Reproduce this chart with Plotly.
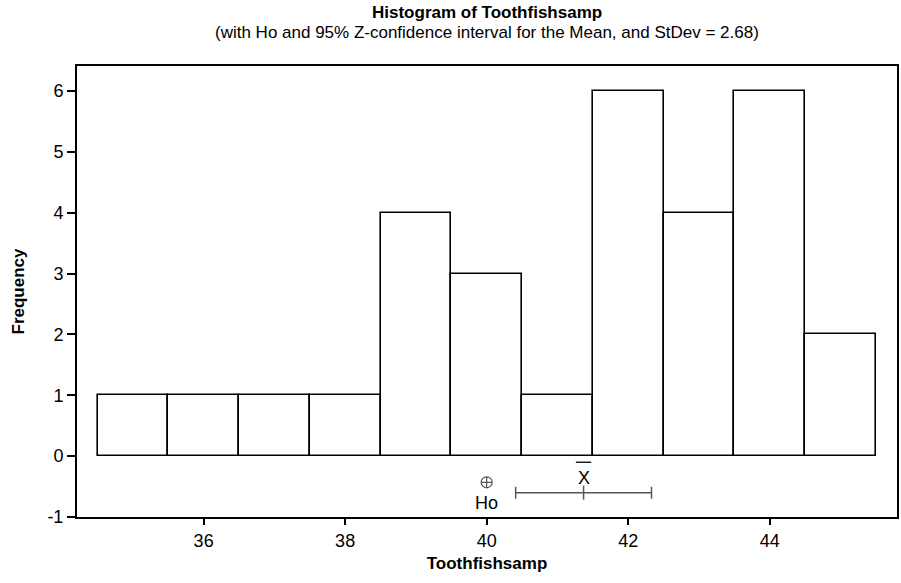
import plotly.graph_objects as go

bin_centers = [35, 36, 37, 38, 39, 40, 41, 42, 43, 44, 45]
frequencies = [1, 1, 1, 1, 4, 3, 1, 6, 4, 6, 2]
x_ticks = [36, 38, 40, 42, 44]
y_ticks = [-1, 0, 1, 2, 3, 4, 5, 6]
y_tick_labels = ["-1", "0", "1", "2", "3", "4", "5", "6"]
h0 = 40
ci_mean = 41.37
ci_low = 40.41
ci_high = 42.33

FONT = "Liberation Sans, Arial, Helvetica, sans-serif"
GRAY = "#555555"

fig = go.Figure()
fig.add_trace(go.Bar(
    x=bin_centers, y=frequencies, width=1,
    marker=dict(color="white", line=dict(color="black", width=1.6)),
    hoverinfo="x+y", showlegend=False,
))

# Confidence interval
fig.add_trace(go.Scatter(
    x=[ci_mean], y=[-0.6], mode="markers",
    marker=dict(symbol="line-ns-open", size=10, color=GRAY, line=dict(width=1.5, color=GRAY)),
    error_x=dict(type="data", symmetric=False, array=[ci_high - ci_mean], arrayminus=[ci_mean - ci_low],
                 color=GRAY, thickness=1.5, width=6),
    showlegend=False, hoverinfo="skip",
))
# Ho marker
fig.add_trace(go.Scatter(
    x=[h0], y=[-0.43], mode="markers",
    marker=dict(symbol="circle-cross-open", size=11, color=GRAY, line=dict(width=1.2, color=GRAY)),
    showlegend=False, hoverinfo="skip",
))
# bar over the X (x-bar symbol)
fig.add_trace(go.Scatter(
    x=[ci_mean], y=[-0.1], mode="markers",
    marker=dict(symbol="line-ew-open", size=11, color="black", line=dict(width=1.3, color="black")),
    showlegend=False, hoverinfo="skip",
))
fig.add_annotation(x=h0, y=-0.77, text="Ho", showarrow=False, font=dict(family=FONT, size=18, color="black"))
fig.add_annotation(x=ci_mean, y=-0.36, text="X", showarrow=False, font=dict(family=FONT, size=18, color="black"))

fig.add_annotation(xref="paper", yref="paper", x=0.5, y=1, yshift=42, xanchor="center", yanchor="bottom",
                   text="<b>Histogram of Toothfishsamp</b>", showarrow=False,
                   font=dict(family=FONT, size=17, color="black"))
fig.add_annotation(xref="paper", yref="paper", x=0.5, y=1, yshift=22, xanchor="center", yanchor="bottom",
                   text="(with Ho and 95% Z-confidence interval for the Mean, and StDev = 2.68)", showarrow=False,
                   font=dict(family=FONT, size=17, color="black"))

fig.update_layout(
    width=901, height=583,
    margin=dict(l=77, r=2, t=66, b=66),
    paper_bgcolor="white", plot_bgcolor="white",
    font=dict(family=FONT, size=17, color="black"),
    bargap=0,
)
fig.update_xaxes(
    range=[34.21, 45.8], tickvals=x_ticks, ticks="outside", ticklen=6, tickwidth=1.5, tickcolor="black",
    showline=True, linecolor="black", linewidth=2, mirror=True, showgrid=False, zeroline=False,
    title=dict(text="<b>Toothfishsamp</b>", font=dict(family=FONT, size=17), standoff=8),
    tickfont=dict(family=FONT, size=18),
)
fig.update_yaxes(
    range=[-1, 6.41], tickvals=y_ticks, ticktext=y_tick_labels, ticks="outside", ticklen=8, tickwidth=1.5,
    tickcolor="black",
    showline=True, linecolor="black", linewidth=2, mirror=True, showgrid=False, zeroline=False,
    title=dict(text="<b>Frequency</b>", font=dict(family=FONT, size=17), standoff=18),
    tickfont=dict(family=FONT, size=18),
)

fig.write_html("out.html")
